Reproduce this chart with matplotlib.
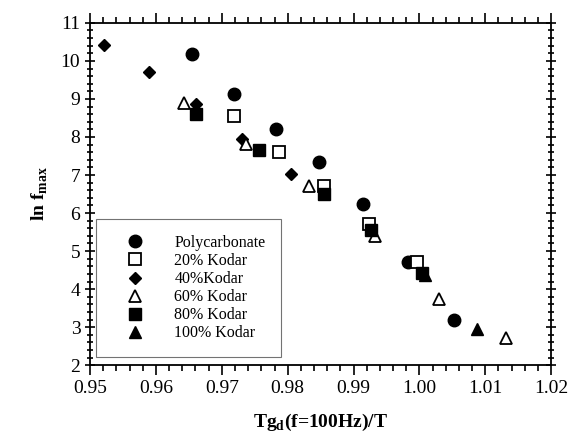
import matplotlib
matplotlib.use("Agg")
import matplotlib.pyplot as plt
from matplotlib.ticker import MultipleLocator

plt.rcParams['font.family'] = ['Liberation Serif', 'DejaVu Serif']
plt.rcParams['mathtext.fontset'] = 'custom'
plt.rcParams['mathtext.rm'] = 'Liberation Serif'
plt.rcParams['mathtext.bf'] = 'Liberation Serif:bold'

# values
poly_x = [0.9654, 0.9718, 0.9783, 0.9848, 0.9915, 0.9983, 1.0053]
poly_y = [10.17, 9.14, 8.20, 7.34, 6.23, 4.72, 3.18]

k20_x = [0.9719, 0.9787, 0.9855, 0.9924, 0.9996]
k20_y = [8.56, 7.60, 6.70, 5.72, 4.72]

k40_x = [0.9521, 0.9589, 0.9661, 0.9730, 0.9805]
k40_y = [10.41, 9.71, 8.86, 7.96, 7.02]

k60_x = [0.9643, 0.9737, 0.9832, 0.9932, 1.0030, 1.0131]
k60_y = [8.90, 7.81, 6.71, 5.39, 3.73, 2.72]

k80_x = [0.9661, 0.9756, 0.9855, 0.9926, 1.0004]
k80_y = [8.60, 7.66, 6.51, 5.55, 4.43]

k100_x = [1.0008, 1.0088]
k100_y = [4.37, 2.94]

fig = plt.figure(figsize=(5.7, 4.4), dpi=100)
ax = fig.add_axes([0.158, 0.170, 0.809, 0.778])

ax.plot(poly_x, poly_y, 'o', color='black', ms=9, label='Polycarbonate')
ax.plot(k20_x, k20_y, 's', mfc='white', mec='black', mew=1.3, ms=8, label='20% Kodar')
ax.plot(k40_x, k40_y, 'D', color='black', ms=6.2, label='40%Kodar')
ax.plot(k60_x, k60_y, '^', mfc='white', mec='black', mew=1.3, ms=8.5, label='60% Kodar')
ax.plot(k80_x, k80_y, 's', color='black', ms=8.5, label='80% Kodar')
ax.plot(k100_x, k100_y, '^', color='black', ms=9, label='100% Kodar')

ax.set_xlim(0.95, 1.02)
ax.set_ylim(2, 11)
ax.xaxis.set_major_locator(MultipleLocator(0.01))
ax.xaxis.set_minor_locator(MultipleLocator(0.002))
ax.yaxis.set_major_locator(MultipleLocator(1))
ax.yaxis.set_minor_locator(MultipleLocator(0.2))
ax.xaxis.set_major_formatter(plt.FormatStrFormatter('%.2f'))

ax.tick_params(which='both', top=True, right=True, direction='out', labelsize=14, width=1.2)
ax.tick_params(axis='y', which='both', left=True, direction='inout')
ax.tick_params(which='major', length=7)
ax.tick_params(which='minor', length=4)
for s in ax.spines.values():
    s.set_linewidth(1.3)

ax.set_xlabel(r'Tg$_\mathbf{d}$(f=100Hz)/T', fontsize=14, fontweight='bold', labelpad=11)
ax.set_ylabel(r'ln f$_\mathbf{max}$', fontsize=14, fontweight='bold', labelpad=8)

leg = ax.legend(loc='lower left', bbox_to_anchor=(0.013, 0.023), borderaxespad=0,
                fontsize=11.5, labelspacing=0.13, handlelength=2.9, handletextpad=1.0,
                borderpad=1.0, fancybox=False, framealpha=1, edgecolor='0.45')
leg.get_frame().set_linewidth(0.8)

fig.savefig('out.png', dpi=100)
